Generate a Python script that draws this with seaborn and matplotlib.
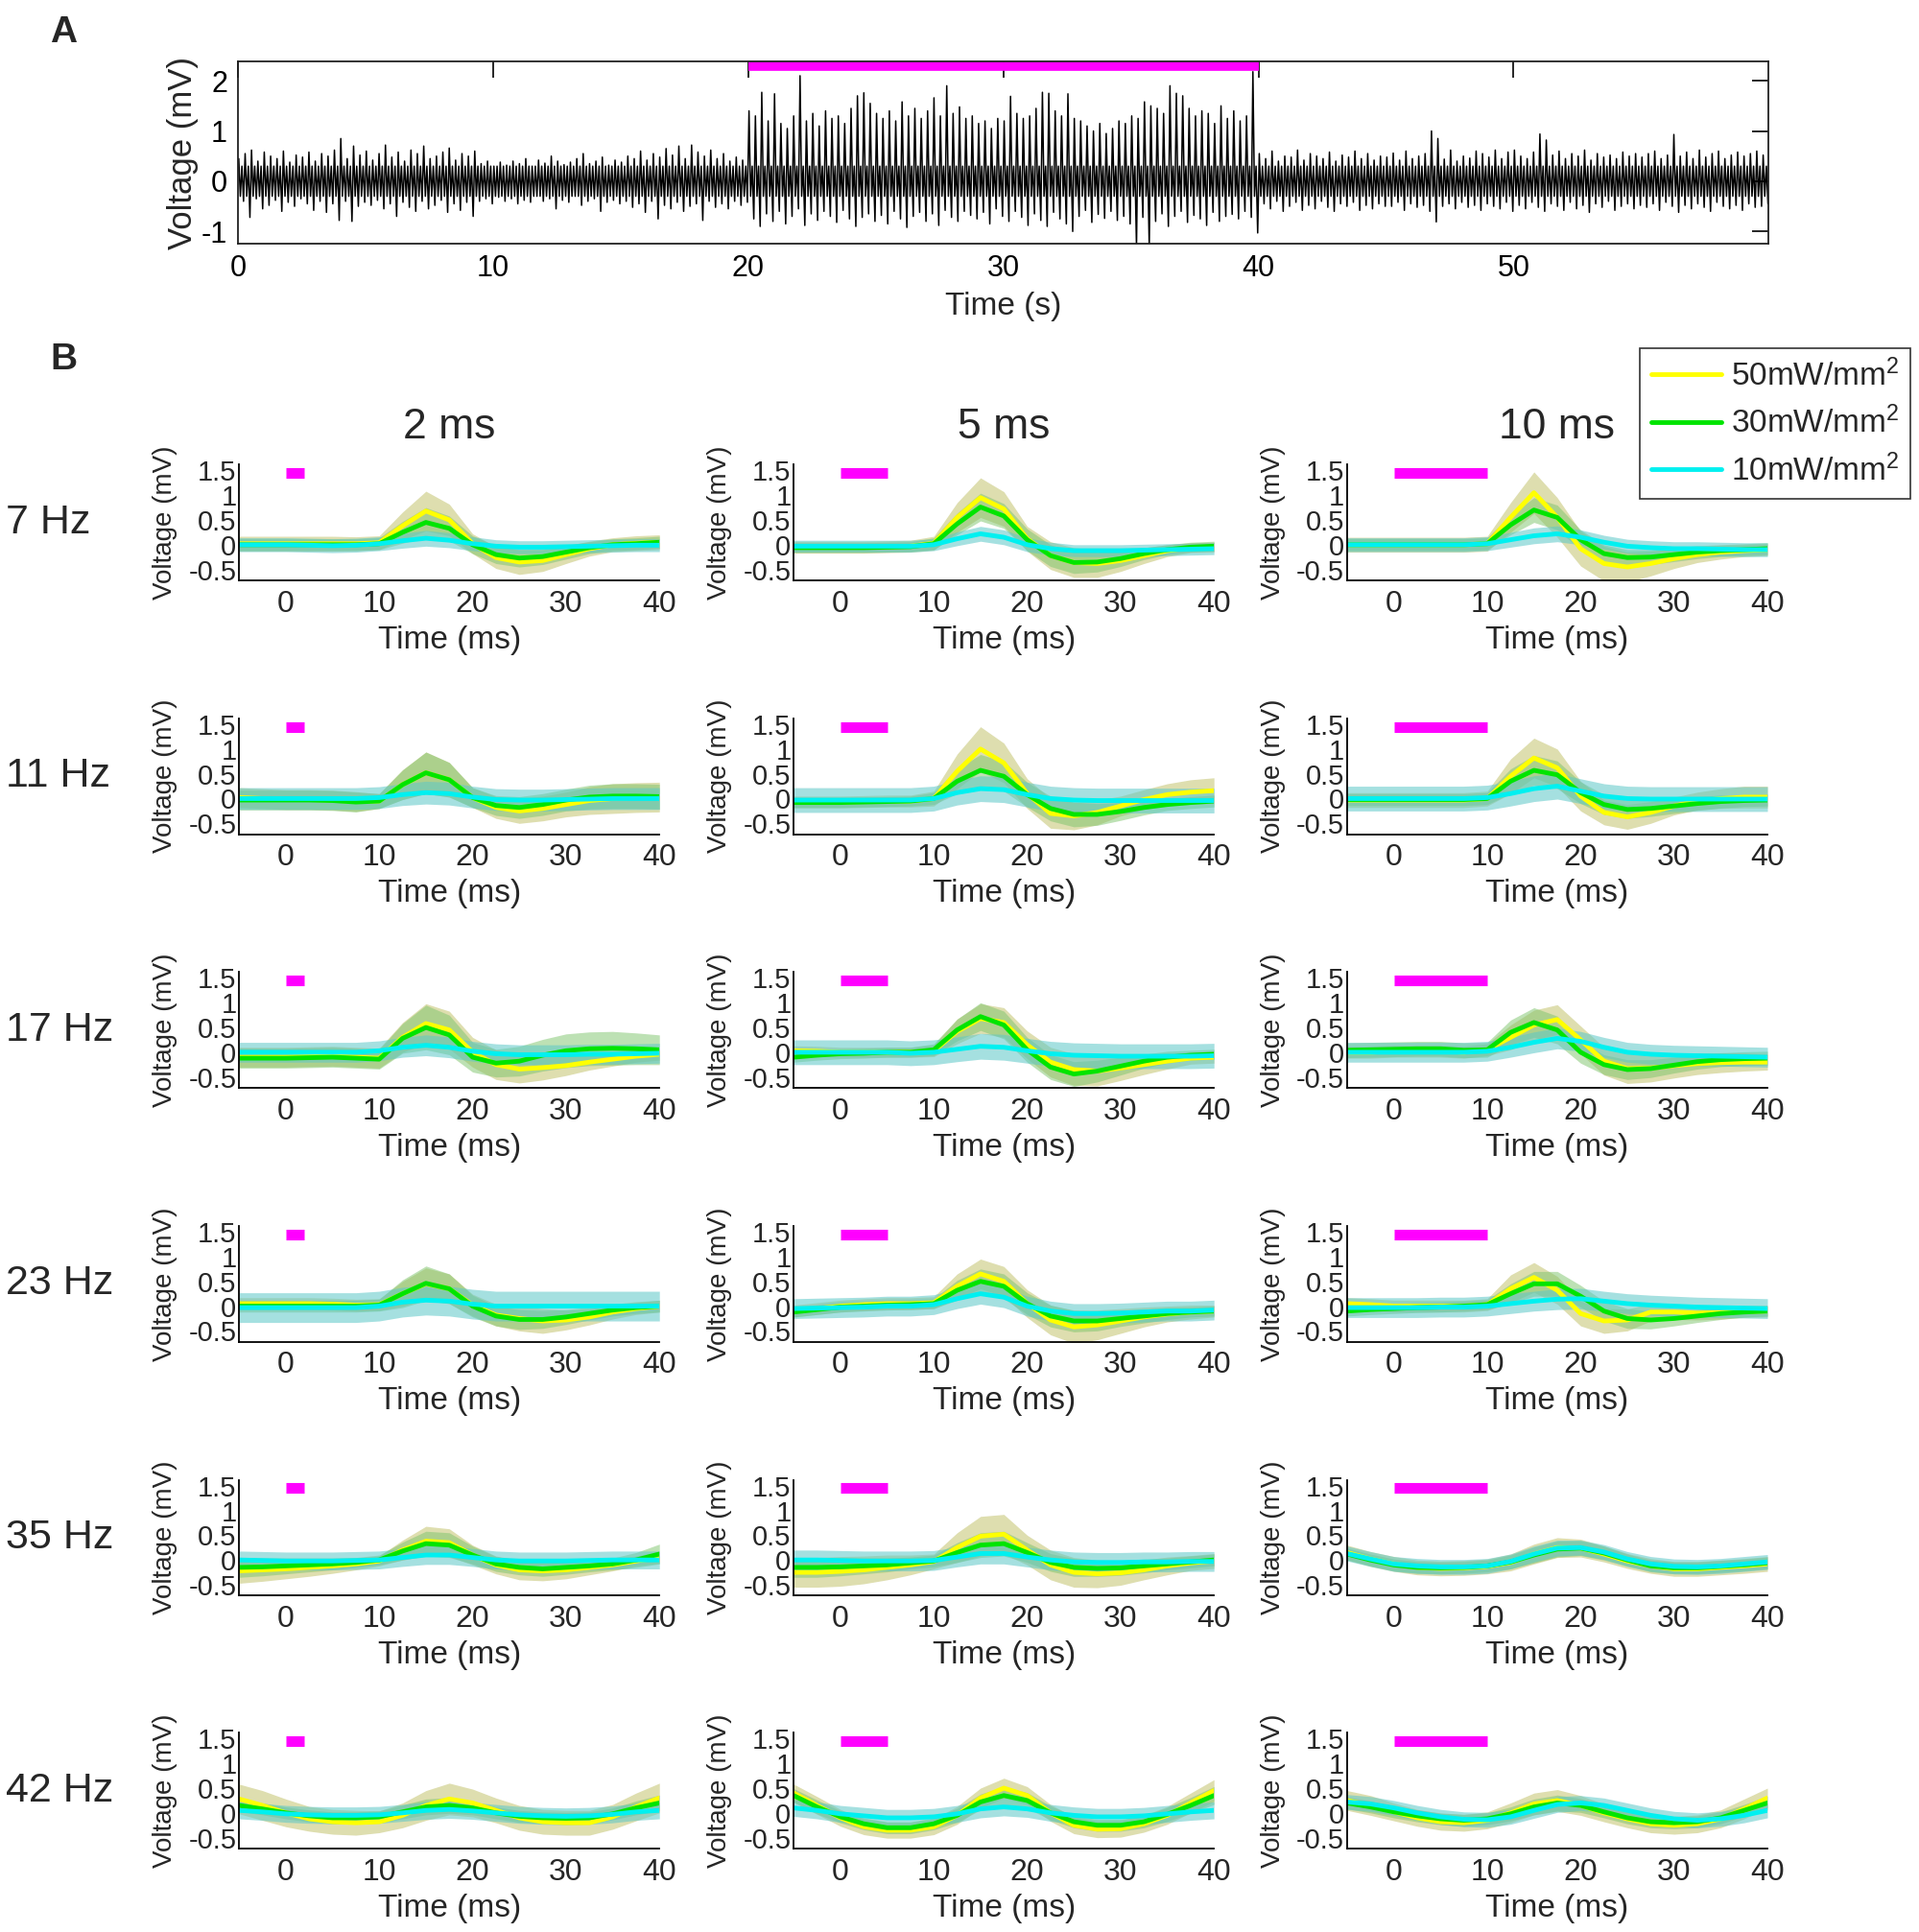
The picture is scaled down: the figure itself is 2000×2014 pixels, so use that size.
import numpy as np
import matplotlib
matplotlib.use("Agg")
import matplotlib.pyplot as plt
from matplotlib.lines import Line2D
import seaborn as sns

# ---------------- Panel A: extracellular trace, extremes per 0.25 s window (mV)
trace_top = [
    0.45, 0.55, 0.62, 0.40, 0.58, 0.50, 0.45, 0.60, 0.38, 0.52, 0.48, 0.58, 0.40, 0.55, 0.50, 0.62, 0.85, 0.45, 0.70, 0.52,
    0.60, 0.42, 0.55, 0.72, 0.48, 0.58, 0.40, 0.62, 0.55, 0.70, 0.45, 0.50, 0.58, 0.66, 0.42, 0.55, 0.50, 0.60, 0.35, 0.40,
    0.30, 0.38, 0.32, 0.40, 0.35, 0.45, 0.30, 0.42, 0.36, 0.50, 0.40, 0.33, 0.38, 0.45, 0.55, 0.35, 0.40, 0.48, 0.32, 0.42,
    0.38, 0.50, 0.45, 0.60, 0.42, 0.55, 0.48, 0.65, 0.52, 0.70, 0.45, 0.72, 0.58, 0.50, 0.62, 0.45, 0.55, 0.40, 0.48, 0.42,
    1.40, 1.30, 1.77, 1.20, 1.74, 1.15, 1.05, 1.30, 2.10, 1.20, 1.35, 1.10, 1.40, 1.25, 1.30, 1.15, 1.45, 1.70, 1.76, 1.55,
    1.35, 1.25, 1.40, 1.20, 1.58, 1.30, 1.45, 1.25, 1.40, 1.66, 1.30, 1.90, 1.35, 1.48, 1.25, 1.30, 1.15, 1.20, 1.05, 1.25,
    1.20, 1.69, 1.35, 1.25, 1.30, 1.45, 1.77, 1.75, 1.40, 1.30, 1.74, 1.25, 1.20, 1.10, 1.00, 1.15, 0.95, 1.05, 1.20, 1.15,
    1.30, 1.25, 1.58, 1.50, 1.45, 1.35, 1.90, 1.75, 1.70, 1.45, 1.30, 1.40, 1.35, 1.15, 1.50, 1.25, 1.40, 1.20, 1.30, 2.18,
    0.55, 0.45, 0.60, 0.40, 0.50, 0.48, 0.62, 0.42, 0.55, 0.50, 0.45, 0.58, 0.40, 0.52, 0.48, 0.60, 0.45, 0.55, 0.42, 0.50,
    0.48, 0.56, 0.42, 0.60, 0.45, 0.50, 0.55, 1.00, 0.85, 0.44, 0.62, 0.40, 0.50, 0.46, 0.60, 0.55, 0.48, 0.62, 0.45, 0.58,
    0.62, 0.50, 0.45, 0.58, 0.94, 0.82, 0.52, 0.60, 0.45, 0.55, 0.50, 0.62, 0.42, 0.55, 0.48, 0.52, 0.45, 0.58, 0.50, 0.55,
    0.48, 0.55, 0.60, 0.45, 0.52, 0.93, 0.50, 0.58, 0.45, 0.62, 0.48, 0.55, 0.60, 0.45, 0.52, 0.58, 0.50, 0.55, 0.60, 0.52,
]
trace_bot = [
    -0.40, -0.72, -0.35, -0.55, -0.48, -0.38, -0.60, -0.42, -0.50, -0.35, -0.45, -0.58, -0.40, -0.62, -0.45, -0.78, -0.40, -0.80, -0.50, -0.42,
    -0.48, -0.38, -0.55, -0.45, -0.70, -0.42, -0.52, -0.60, -0.40, -0.55, -0.48, -0.38, -0.62, -0.45, -0.58, -0.42, -0.70, -0.40, -0.35, -0.45,
    -0.32, -0.40, -0.35, -0.45, -0.38, -0.42, -0.30, -0.40, -0.35, -0.55, -0.38, -0.42, -0.30, -0.48, -0.40, -0.35, -0.60, -0.42, -0.38, -0.45,
    -0.40, -0.52, -0.45, -0.62, -0.40, -0.75, -0.48, -0.55, -0.42, -0.60, -0.50, -0.45, -0.78, -0.40, -0.52, -0.45, -0.55, -0.40, -0.48, -0.42,
    -0.75, -0.90, -0.65, -0.80, -0.60, -0.85, -0.70, -0.55, -0.88, -0.65, -0.78, -0.60, -0.70, -0.82, -0.58, -0.75, -0.90, -0.72, -0.65, -0.80,
    -0.68, -0.85, -0.60, -0.75, -0.92, -0.70, -0.62, -0.80, -0.65, -0.88, -0.58, -0.72, -0.80, -0.60, -0.68, -0.75, -0.62, -0.85, -0.55, -0.70,
    -0.80, -0.60, -0.72, -0.88, -0.65, -0.78, -0.90, -0.62, -0.75, -0.85, -1.00, -0.70, -0.58, -0.82, -0.66, -0.74, -0.60, -0.78, -0.70, -0.85,
    -1.30, -0.72, -1.30, -0.80, -0.65, -0.90, -0.70, -0.60, -0.82, -0.68, -0.75, -0.88, -0.62, -0.80, -0.70, -0.66, -0.75, -0.60, -0.72, -1.03,
    -0.45, -0.55, -0.40, -0.60, -0.50, -0.42, -0.58, -0.48, -0.55, -0.40, -0.52, -0.60, -0.45, -0.50, -0.42, -0.58, -0.48, -0.55, -0.45, -0.50,
    -0.50, -0.42, -0.58, -0.45, -0.52, -0.48, -0.60, -0.81, -0.50, -0.45, -0.55, -0.42, -0.52, -0.48, -0.58, -0.45, -0.50, -0.55, -0.42, -0.60,
    -0.48, -0.55, -0.42, -0.52, -0.60, -0.45, -0.50, -0.58, -0.42, -0.55, -0.48, -0.62, -0.45, -0.52, -0.40, -0.58, -0.50, -0.45, -0.55, -0.48,
    -0.52, -0.45, -0.58, -0.42, -0.50, -0.62, -0.48, -0.55, -0.45, -0.52, -0.60, -0.42, -0.50, -0.55, -0.48, -0.58, -0.45, -0.52, -0.50, -0.45,
]
noise_core_mv = 0.3      # width of the dense background noise band
window_s = 0.25
stim_on_s = [20, 40]
stim_level_a = 2.28

# ---------------- Panel B: mean +/- sd of evoked field potentials (mV)
t_ms = [-5, -2.5, 0, 2.5, 5, 7.5, 10, 12.5, 15, 17.5, 20, 22.5, 25, 27.5, 30, 32.5, 35, 37.5, 40]
freq_labels = ["7 Hz", "11 Hz", "17 Hz", "23 Hz", "35 Hz", "42 Hz"]
pulse_ms = [2, 5, 10]
pulse_titles = ["2 ms", "5 ms", "10 ms"]
power_labels = ["50mW/mm$^2$", "30mW/mm$^2$", "10mW/mm$^2$"]
stim_level_b = 1.45

# each block: [2 ms, 5 ms, 10 ms]
m07_50 = [
    [0.02, 0.02, 0.02, 0.02, 0.02, 0.02, 0.04, 0.38, 0.68, 0.50, 0.02, -0.26, -0.35, -0.32, -0.20, -0.08, 0.00, 0.03, 0.05],
    [-0.05, -0.05, -0.05, -0.05, -0.04, -0.03, 0.03, 0.55, 0.95, 0.72, 0.12, -0.22, -0.36, -0.38, -0.32, -0.22, -0.12, -0.06, -0.05],
    [0.00, 0.00, 0.00, 0.00, 0.00, 0.00, 0.02, 0.55, 1.05, 0.55, -0.08, -0.38, -0.45, -0.38, -0.28, -0.20, -0.15, -0.12, -0.10],
]
m07_30 = [
    [0.00, 0.00, 0.00, 0.00, 0.00, 0.00, 0.02, 0.25, 0.45, 0.33, 0.00, -0.20, -0.27, -0.24, -0.15, -0.06, 0.00, 0.02, 0.05],
    [-0.06, -0.06, -0.06, -0.06, -0.05, -0.04, 0.02, 0.42, 0.76, 0.58, 0.10, -0.22, -0.36, -0.35, -0.28, -0.18, -0.10, -0.05, -0.03],
    [0.00, 0.00, 0.00, 0.00, 0.00, 0.00, 0.02, 0.40, 0.70, 0.55, 0.10, -0.18, -0.26, -0.25, -0.20, -0.15, -0.12, -0.10, -0.08],
]
m07_10 = [
    [0.00, 0.00, 0.00, -0.01, -0.02, -0.01, 0.02, 0.08, 0.13, 0.09, 0.02, -0.03, -0.05, -0.05, -0.04, -0.03, -0.02, -0.01, -0.01],
    [-0.03, -0.03, -0.03, -0.03, -0.03, -0.03, 0.00, 0.12, 0.22, 0.15, 0.00, -0.08, -0.12, -0.12, -0.12, -0.11, -0.10, -0.09, -0.08],
    [0.00, 0.00, 0.00, 0.00, 0.00, 0.00, 0.02, 0.10, 0.18, 0.22, 0.15, 0.05, -0.03, -0.06, -0.08, -0.08, -0.09, -0.10, -0.10],
]
s07_50 = [
    [0.15, 0.15, 0.15, 0.15, 0.15, 0.14, 0.14, 0.28, 0.40, 0.32, 0.20, 0.22, 0.25, 0.22, 0.18, 0.15, 0.14, 0.15, 0.15],
    [0.12, 0.12, 0.12, 0.12, 0.12, 0.12, 0.14, 0.30, 0.40, 0.35, 0.25, 0.28, 0.30, 0.28, 0.22, 0.16, 0.12, 0.10, 0.10],
    [0.15, 0.15, 0.15, 0.15, 0.15, 0.15, 0.15, 0.30, 0.42, 0.40, 0.35, 0.35, 0.30, 0.25, 0.20, 0.16, 0.14, 0.12, 0.12],
]
s07_30 = [
    [0.12, 0.12, 0.12, 0.12, 0.12, 0.12, 0.12, 0.22, 0.30, 0.25, 0.18, 0.18, 0.18, 0.16, 0.14, 0.12, 0.12, 0.12, 0.12],
    [0.10, 0.10, 0.10, 0.10, 0.10, 0.10, 0.12, 0.22, 0.28, 0.25, 0.22, 0.22, 0.22, 0.20, 0.16, 0.12, 0.10, 0.10, 0.10],
    [0.12, 0.12, 0.12, 0.12, 0.12, 0.12, 0.12, 0.20, 0.25, 0.25, 0.20, 0.18, 0.16, 0.15, 0.14, 0.13, 0.12, 0.12, 0.12],
]
s07_10 = [
    [0.14, 0.14, 0.14, 0.14, 0.14, 0.14, 0.14, 0.15, 0.16, 0.15, 0.14, 0.13, 0.13, 0.13, 0.13, 0.13, 0.13, 0.13, 0.13],
    [0.12, 0.12, 0.12, 0.12, 0.12, 0.12, 0.12, 0.14, 0.15, 0.15, 0.14, 0.13, 0.12, 0.12, 0.12, 0.12, 0.12, 0.12, 0.12],
    [0.14, 0.14, 0.14, 0.14, 0.14, 0.14, 0.14, 0.15, 0.16, 0.16, 0.15, 0.14, 0.14, 0.14, 0.14, 0.14, 0.14, 0.14, 0.14],
]

m11_50 = [
    [0.02, 0.00, -0.02, -0.02, -0.03, -0.06, -0.05, 0.28, 0.52, 0.38, 0.02, -0.18, -0.25, -0.20, -0.12, -0.04, 0.00, 0.02, 0.03],
    [-0.07, -0.07, -0.07, -0.06, -0.05, -0.05, 0.00, 0.55, 1.00, 0.72, 0.10, -0.30, -0.35, -0.28, -0.15, -0.02, 0.08, 0.13, 0.16],
    [-0.03, -0.03, -0.03, -0.03, -0.03, -0.03, 0.00, 0.45, 0.82, 0.62, 0.05, -0.28, -0.37, -0.28, -0.15, -0.05, 0.00, 0.03, 0.03],
]
m11_30 = [
    [-0.03, -0.03, -0.03, -0.03, -0.04, -0.07, -0.05, 0.28, 0.52, 0.38, 0.02, -0.14, -0.18, -0.12, -0.03, 0.03, 0.05, 0.05, 0.04],
    [-0.08, -0.08, -0.08, -0.07, -0.06, -0.05, 0.00, 0.35, 0.57, 0.45, 0.08, -0.20, -0.32, -0.32, -0.26, -0.18, -0.12, -0.08, -0.05],
    [-0.02, -0.02, -0.02, -0.02, -0.02, -0.02, 0.00, 0.35, 0.57, 0.48, 0.12, -0.12, -0.22, -0.20, -0.15, -0.10, -0.06, -0.04, -0.03],
]
m11_10 = [
    [0.00, 0.00, 0.00, 0.00, 0.00, 0.00, 0.02, 0.08, 0.12, 0.10, 0.03, -0.02, -0.03, -0.03, -0.02, -0.01, 0.00, 0.00, 0.00],
    [-0.03, -0.03, -0.03, -0.03, -0.03, -0.03, 0.00, 0.12, 0.20, 0.18, 0.08, 0.00, -0.03, -0.04, -0.04, -0.04, -0.04, -0.04, -0.04],
    [0.00, 0.00, 0.00, 0.00, 0.00, 0.00, 0.02, 0.10, 0.20, 0.25, 0.15, 0.05, 0.00, -0.01, -0.01, -0.01, -0.01, -0.01, -0.01],
]
s11_50 = [
    [0.20, 0.20, 0.20, 0.20, 0.20, 0.20, 0.15, 0.30, 0.42, 0.35, 0.20, 0.22, 0.25, 0.25, 0.25, 0.28, 0.30, 0.30, 0.30],
    [0.12, 0.12, 0.12, 0.12, 0.12, 0.12, 0.15, 0.35, 0.45, 0.40, 0.30, 0.30, 0.28, 0.25, 0.20, 0.20, 0.22, 0.25, 0.26],
    [0.15, 0.15, 0.15, 0.15, 0.15, 0.15, 0.15, 0.35, 0.40, 0.38, 0.30, 0.25, 0.25, 0.22, 0.18, 0.18, 0.20, 0.22, 0.22],
]
s11_30 = [
    [0.20, 0.20, 0.20, 0.20, 0.20, 0.20, 0.15, 0.30, 0.42, 0.35, 0.20, 0.20, 0.22, 0.22, 0.22, 0.24, 0.25, 0.25, 0.25],
    [0.10, 0.10, 0.10, 0.10, 0.10, 0.10, 0.12, 0.25, 0.32, 0.30, 0.25, 0.25, 0.25, 0.22, 0.18, 0.15, 0.12, 0.12, 0.12],
    [0.12, 0.12, 0.12, 0.12, 0.12, 0.12, 0.12, 0.25, 0.30, 0.28, 0.22, 0.20, 0.18, 0.16, 0.15, 0.14, 0.13, 0.12, 0.12],
]
s11_10 = [
    [0.22, 0.22, 0.22, 0.22, 0.22, 0.22, 0.22, 0.22, 0.23, 0.23, 0.22, 0.22, 0.22, 0.22, 0.22, 0.22, 0.22, 0.22, 0.22],
    [0.25, 0.25, 0.25, 0.25, 0.25, 0.25, 0.25, 0.25, 0.26, 0.26, 0.25, 0.25, 0.25, 0.25, 0.25, 0.25, 0.25, 0.25, 0.25],
    [0.25, 0.25, 0.25, 0.25, 0.25, 0.25, 0.25, 0.25, 0.26, 0.26, 0.25, 0.25, 0.25, 0.25, 0.25, 0.25, 0.25, 0.25, 0.25],
]

m17_50 = [
    [-0.10, -0.10, -0.10, -0.09, -0.08, -0.10, -0.12, 0.30, 0.58, 0.45, 0.00, -0.25, -0.34, -0.31, -0.27, -0.20, -0.14, -0.08, -0.04],
    [0.03, 0.02, 0.00, 0.00, 0.00, 0.00, 0.03, 0.42, 0.68, 0.60, 0.15, -0.20, -0.35, -0.38, -0.32, -0.25, -0.18, -0.12, -0.10],
    [0.00, 0.00, 0.02, 0.02, 0.02, 0.00, 0.05, 0.30, 0.55, 0.66, 0.25, -0.18, -0.33, -0.32, -0.27, -0.23, -0.21, -0.20, -0.20],
]
m17_30 = [
    [-0.12, -0.12, -0.12, -0.11, -0.10, -0.12, -0.14, 0.28, 0.50, 0.35, -0.10, -0.22, -0.18, -0.06, 0.03, 0.07, 0.08, 0.07, 0.05],
    [-0.10, -0.06, -0.03, -0.02, 0.00, 0.00, 0.05, 0.45, 0.72, 0.55, 0.05, -0.30, -0.44, -0.38, -0.28, -0.18, -0.10, -0.06, -0.04],
    [0.04, 0.05, 0.06, 0.07, 0.07, 0.04, 0.05, 0.40, 0.60, 0.45, 0.00, -0.25, -0.35, -0.33, -0.26, -0.19, -0.15, -0.13, -0.12],
]
m17_10 = [
    [0.00, 0.00, 0.00, 0.00, 0.00, 0.00, 0.03, 0.10, 0.14, 0.10, 0.02, -0.03, -0.05, -0.05, -0.05, -0.04, -0.04, -0.03, -0.02],
    [0.00, 0.00, 0.00, 0.00, 0.00, -0.02, 0.00, 0.06, 0.12, 0.10, 0.03, -0.03, -0.06, -0.07, -0.08, -0.08, -0.08, -0.08, -0.07],
    [0.00, 0.00, 0.00, 0.00, 0.00, 0.00, 0.02, 0.10, 0.20, 0.28, 0.22, 0.10, 0.00, -0.04, -0.06, -0.07, -0.08, -0.09, -0.10],
]
s17_50 = [
    [0.20, 0.20, 0.20, 0.20, 0.20, 0.20, 0.20, 0.30, 0.40, 0.38, 0.30, 0.30, 0.28, 0.25, 0.20, 0.16, 0.14, 0.12, 0.12],
    [0.10, 0.10, 0.10, 0.10, 0.10, 0.10, 0.12, 0.25, 0.30, 0.30, 0.28, 0.30, 0.32, 0.30, 0.25, 0.20, 0.16, 0.12, 0.12],
    [0.12, 0.12, 0.12, 0.12, 0.12, 0.12, 0.12, 0.25, 0.30, 0.30, 0.28, 0.28, 0.30, 0.28, 0.25, 0.22, 0.20, 0.18, 0.16],
]
s17_30 = [
    [0.20, 0.20, 0.20, 0.20, 0.20, 0.20, 0.20, 0.30, 0.45, 0.40, 0.30, 0.28, 0.30, 0.32, 0.34, 0.34, 0.34, 0.32, 0.30],
    [0.10, 0.10, 0.10, 0.10, 0.10, 0.10, 0.12, 0.22, 0.28, 0.28, 0.25, 0.25, 0.25, 0.22, 0.18, 0.14, 0.12, 0.10, 0.10],
    [0.15, 0.15, 0.15, 0.15, 0.15, 0.15, 0.15, 0.25, 0.30, 0.28, 0.22, 0.20, 0.20, 0.18, 0.16, 0.15, 0.14, 0.14, 0.14],
]
s17_10 = [
    [0.20, 0.20, 0.20, 0.20, 0.20, 0.20, 0.20, 0.20, 0.21, 0.21, 0.20, 0.20, 0.20, 0.20, 0.20, 0.20, 0.20, 0.20, 0.20],
    [0.25, 0.25, 0.25, 0.25, 0.25, 0.25, 0.25, 0.25, 0.26, 0.26, 0.25, 0.25, 0.25, 0.25, 0.25, 0.25, 0.25, 0.25, 0.25],
    [0.20, 0.20, 0.20, 0.20, 0.20, 0.20, 0.20, 0.20, 0.21, 0.21, 0.20, 0.20, 0.20, 0.20, 0.20, 0.20, 0.20, 0.20, 0.20],
]

m23_50 = [
    [0.05, 0.05, 0.05, 0.05, 0.04, 0.02, 0.03, 0.25, 0.45, 0.35, 0.02, -0.18, -0.25, -0.30, -0.28, -0.22, -0.12, -0.05, 0.00],
    [-0.10, -0.05, 0.00, 0.03, 0.05, 0.05, 0.07, 0.40, 0.65, 0.50, 0.05, -0.28, -0.42, -0.38, -0.30, -0.22, -0.16, -0.12, -0.10],
    [0.05, 0.03, 0.00, 0.00, 0.00, 0.00, 0.03, 0.35, 0.58, 0.32, -0.15, -0.30, -0.28, -0.12, -0.12, -0.14, -0.13, -0.11, -0.10],
]
m23_30 = [
    [0.00, 0.00, 0.00, 0.00, 0.00, 0.00, 0.02, 0.25, 0.46, 0.35, 0.00, -0.20, -0.27, -0.27, -0.22, -0.15, -0.08, -0.03, 0.00],
    [-0.12, -0.07, -0.02, 0.00, 0.02, 0.03, 0.05, 0.32, 0.50, 0.40, 0.05, -0.20, -0.30, -0.30, -0.25, -0.20, -0.15, -0.12, -0.10],
    [-0.10, -0.07, -0.05, -0.03, -0.02, 0.00, 0.03, 0.25, 0.45, 0.45, 0.20, -0.10, -0.25, -0.28, -0.25, -0.20, -0.15, -0.12, -0.10],
]
m23_10 = [
    [-0.03, -0.03, -0.03, -0.03, -0.03, -0.03, 0.00, 0.08, 0.12, 0.10, 0.04, 0.00, 0.00, 0.00, 0.00, 0.00, 0.00, 0.00, 0.00],
    [-0.05, -0.04, -0.03, -0.02, 0.00, 0.00, 0.03, 0.15, 0.25, 0.18, 0.00, -0.10, -0.15, -0.15, -0.14, -0.12, -0.10, -0.10, -0.08],
    [-0.03, -0.03, -0.03, -0.03, -0.02, -0.02, 0.00, 0.05, 0.10, 0.14, 0.15, 0.10, 0.05, 0.02, 0.00, -0.02, -0.03, -0.04, -0.05],
]
s23_50 = [
    [0.12, 0.12, 0.12, 0.12, 0.12, 0.12, 0.12, 0.25, 0.32, 0.30, 0.22, 0.22, 0.25, 0.25, 0.20, 0.16, 0.14, 0.12, 0.12],
    [0.12, 0.12, 0.12, 0.12, 0.12, 0.12, 0.12, 0.25, 0.30, 0.30, 0.28, 0.30, 0.33, 0.30, 0.25, 0.20, 0.16, 0.14, 0.12],
    [0.12, 0.12, 0.12, 0.12, 0.12, 0.12, 0.12, 0.28, 0.30, 0.28, 0.25, 0.25, 0.22, 0.18, 0.15, 0.14, 0.13, 0.12, 0.12],
]
s23_30 = [
    [0.12, 0.12, 0.12, 0.12, 0.12, 0.12, 0.12, 0.28, 0.35, 0.30, 0.22, 0.20, 0.20, 0.18, 0.15, 0.13, 0.12, 0.12, 0.12],
    [0.10, 0.10, 0.10, 0.10, 0.10, 0.10, 0.10, 0.20, 0.25, 0.25, 0.22, 0.22, 0.22, 0.20, 0.16, 0.14, 0.12, 0.10, 0.10],
    [0.10, 0.10, 0.10, 0.10, 0.10, 0.10, 0.10, 0.20, 0.25, 0.25, 0.22, 0.20, 0.20, 0.18, 0.15, 0.13, 0.12, 0.10, 0.10],
]
s23_10 = [
    [0.30, 0.30, 0.30, 0.30, 0.30, 0.30, 0.30, 0.30, 0.30, 0.30, 0.30, 0.30, 0.30, 0.30, 0.30, 0.30, 0.30, 0.30, 0.30],
    [0.20, 0.20, 0.20, 0.20, 0.20, 0.20, 0.20, 0.20, 0.21, 0.21, 0.20, 0.20, 0.20, 0.20, 0.20, 0.20, 0.20, 0.20, 0.20],
    [0.20, 0.20, 0.20, 0.20, 0.20, 0.20, 0.20, 0.20, 0.20, 0.21, 0.21, 0.20, 0.20, 0.20, 0.20, 0.20, 0.20, 0.20, 0.20],
]

m35_50 = [
    [-0.22, -0.20, -0.18, -0.15, -0.12, -0.08, -0.02, 0.20, 0.38, 0.35, 0.10, -0.10, -0.20, -0.22, -0.20, -0.15, -0.10, -0.02, 0.05],
    [-0.25, -0.25, -0.23, -0.20, -0.15, -0.10, -0.03, 0.25, 0.48, 0.52, 0.20, -0.10, -0.25, -0.28, -0.26, -0.20, -0.12, -0.06, -0.02],
    [0.15, 0.02, -0.08, -0.15, -0.17, -0.16, -0.13, -0.05, 0.12, 0.25, 0.24, 0.12, -0.02, -0.12, -0.18, -0.18, -0.15, -0.12, -0.08],
]
m35_30 = [
    [-0.15, -0.14, -0.12, -0.10, -0.08, -0.05, 0.00, 0.18, 0.33, 0.30, 0.10, -0.08, -0.15, -0.18, -0.15, -0.12, -0.08, 0.00, 0.12],
    [-0.15, -0.15, -0.14, -0.12, -0.10, -0.06, -0.02, 0.15, 0.30, 0.33, 0.15, -0.05, -0.15, -0.17, -0.16, -0.12, -0.08, -0.04, 0.00],
    [0.12, 0.00, -0.10, -0.15, -0.16, -0.15, -0.12, -0.04, 0.10, 0.22, 0.24, 0.14, 0.00, -0.12, -0.16, -0.16, -0.13, -0.10, -0.06],
]
m35_10 = [
    [0.00, -0.01, -0.02, -0.02, -0.02, -0.01, 0.00, 0.05, 0.10, 0.10, 0.05, 0.00, -0.02, -0.02, -0.02, -0.01, 0.00, 0.00, 0.00],
    [0.00, 0.00, -0.01, -0.02, -0.02, -0.02, -0.01, 0.06, 0.13, 0.13, 0.06, 0.00, -0.04, -0.05, -0.05, -0.04, -0.04, -0.03, -0.03],
    [0.13, 0.02, -0.08, -0.12, -0.14, -0.14, -0.12, -0.03, 0.12, 0.24, 0.25, 0.16, 0.02, -0.08, -0.13, -0.14, -0.12, -0.08, -0.04],
]
s35_50 = [
    [0.25, 0.23, 0.20, 0.18, 0.15, 0.12, 0.10, 0.20, 0.30, 0.28, 0.20, 0.18, 0.20, 0.20, 0.18, 0.15, 0.12, 0.10, 0.12],
    [0.30, 0.30, 0.30, 0.28, 0.25, 0.20, 0.15, 0.30, 0.40, 0.40, 0.30, 0.30, 0.30, 0.28, 0.25, 0.20, 0.18, 0.15, 0.15],
    [0.15, 0.15, 0.15, 0.15, 0.15, 0.15, 0.15, 0.17, 0.20, 0.20, 0.18, 0.16, 0.15, 0.15, 0.15, 0.15, 0.15, 0.15, 0.15],
]
s35_30 = [
    [0.20, 0.18, 0.16, 0.14, 0.12, 0.10, 0.10, 0.18, 0.25, 0.25, 0.18, 0.15, 0.15, 0.15, 0.14, 0.12, 0.12, 0.15, 0.20],
    [0.20, 0.20, 0.18, 0.16, 0.14, 0.12, 0.12, 0.20, 0.25, 0.25, 0.20, 0.18, 0.18, 0.16, 0.15, 0.14, 0.12, 0.12, 0.12],
    [0.12, 0.12, 0.12, 0.12, 0.12, 0.12, 0.12, 0.14, 0.16, 0.16, 0.15, 0.14, 0.12, 0.12, 0.12, 0.12, 0.12, 0.12, 0.12],
]
s35_10 = [
    [0.18, 0.18, 0.18, 0.18, 0.18, 0.18, 0.18, 0.18, 0.19, 0.19, 0.18, 0.18, 0.18, 0.18, 0.18, 0.18, 0.18, 0.18, 0.18],
    [0.20, 0.20, 0.20, 0.20, 0.20, 0.20, 0.20, 0.20, 0.21, 0.21, 0.20, 0.20, 0.20, 0.20, 0.20, 0.20, 0.20, 0.20, 0.20],
    [0.15, 0.15, 0.15, 0.15, 0.15, 0.15, 0.15, 0.15, 0.16, 0.16, 0.15, 0.15, 0.15, 0.15, 0.15, 0.15, 0.15, 0.15, 0.15],
]

m42_50 = [
    [0.28, 0.15, 0.00, -0.12, -0.18, -0.20, -0.18, -0.05, 0.15, 0.28, 0.20, 0.05, -0.10, -0.18, -0.20, -0.20, -0.08, 0.12, 0.30],
    [0.40, 0.15, -0.10, -0.28, -0.35, -0.35, -0.28, -0.05, 0.30, 0.50, 0.35, 0.00, -0.25, -0.33, -0.32, -0.22, -0.05, 0.20, 0.45],
    [0.25, 0.15, 0.02, -0.10, -0.18, -0.20, -0.15, 0.00, 0.18, 0.25, 0.15, 0.00, -0.12, -0.22, -0.25, -0.22, -0.12, 0.08, 0.30],
]
m42_30 = [
    [0.15, 0.08, 0.00, -0.06, -0.10, -0.10, -0.08, 0.02, 0.12, 0.15, 0.10, 0.00, -0.07, -0.10, -0.11, -0.10, -0.02, 0.10, 0.20],
    [0.35, 0.12, -0.08, -0.22, -0.30, -0.30, -0.22, -0.05, 0.22, 0.35, 0.25, 0.00, -0.18, -0.25, -0.25, -0.18, -0.03, 0.15, 0.35],
    [0.20, 0.12, 0.02, -0.06, -0.12, -0.15, -0.12, -0.02, 0.12, 0.20, 0.15, 0.02, -0.10, -0.18, -0.20, -0.18, -0.10, 0.05, 0.20],
]
m42_10 = [
    [0.05, 0.02, -0.02, -0.04, -0.05, -0.05, -0.04, 0.00, 0.05, 0.07, 0.04, 0.00, -0.04, -0.06, -0.07, -0.06, -0.03, 0.02, 0.05],
    [0.10, 0.05, -0.02, -0.06, -0.10, -0.10, -0.08, -0.02, 0.08, 0.12, 0.08, 0.00, -0.05, -0.08, -0.08, -0.06, -0.02, 0.02, 0.05],
    [0.22, 0.18, 0.10, 0.00, -0.08, -0.13, -0.14, -0.08, 0.05, 0.17, 0.20, 0.15, 0.05, -0.05, -0.12, -0.15, -0.12, -0.05, 0.05],
]
s42_50 = [
    [0.30, 0.30, 0.28, 0.25, 0.25, 0.25, 0.22, 0.25, 0.30, 0.32, 0.28, 0.25, 0.25, 0.25, 0.25, 0.25, 0.25, 0.28, 0.30],
    [0.18, 0.18, 0.17, 0.16, 0.16, 0.16, 0.16, 0.18, 0.20, 0.20, 0.18, 0.17, 0.17, 0.17, 0.17, 0.17, 0.18, 0.20, 0.22],
    [0.20, 0.20, 0.18, 0.17, 0.17, 0.17, 0.17, 0.20, 0.22, 0.22, 0.20, 0.18, 0.18, 0.18, 0.18, 0.18, 0.18, 0.20, 0.20],
]
s42_30 = [
    [0.12, 0.12, 0.12, 0.12, 0.12, 0.12, 0.12, 0.14, 0.16, 0.16, 0.14, 0.12, 0.12, 0.12, 0.12, 0.12, 0.12, 0.14, 0.16],
    [0.14, 0.14, 0.12, 0.12, 0.12, 0.12, 0.12, 0.14, 0.16, 0.18, 0.16, 0.14, 0.12, 0.12, 0.12, 0.12, 0.14, 0.16, 0.18],
    [0.12, 0.12, 0.12, 0.12, 0.12, 0.12, 0.12, 0.14, 0.16, 0.16, 0.14, 0.12, 0.12, 0.12, 0.12, 0.12, 0.12, 0.12, 0.14],
]
s42_10 = [
    [0.17, 0.17, 0.17, 0.17, 0.17, 0.17, 0.17, 0.17, 0.18, 0.18, 0.17, 0.17, 0.17, 0.17, 0.17, 0.17, 0.17, 0.17, 0.17],
    [0.17, 0.17, 0.17, 0.17, 0.17, 0.17, 0.17, 0.17, 0.18, 0.18, 0.17, 0.17, 0.17, 0.17, 0.17, 0.17, 0.17, 0.17, 0.17],
    [0.15, 0.15, 0.15, 0.15, 0.15, 0.15, 0.15, 0.15, 0.16, 0.16, 0.15, 0.15, 0.15, 0.15, 0.15, 0.15, 0.15, 0.15, 0.15],
]

means = [
    [m07_50, m07_30, m07_10],
    [m11_50, m11_30, m11_10],
    [m17_50, m17_30, m17_10],
    [m23_50, m23_30, m23_10],
    [m35_50, m35_30, m35_10],
    [m42_50, m42_30, m42_10],
]
sds = [
    [s07_50, s07_30, s07_10],
    [s11_50, s11_30, s11_10],
    [s17_50, s17_30, s17_10],
    [s23_50, s23_30, s23_10],
    [s35_50, s35_30, s35_10],
    [s42_50, s42_30, s42_10],
]

line_colors = ["#ffff00", "#00e400", "#00f0f0"]
band_colors = ["#c8c87a", "#7cc46a", "#5cc8c8"]
band_alpha = [0.6, 0.5, 0.55]
stim_color = "#ff00ff"

# ---------------- style
sns.set_theme(style="white")
plt.rcParams["font.family"] = ["Liberation Sans", "DejaVu Sans"]
plt.rcParams["mathtext.fontset"] = "custom"
plt.rcParams["mathtext.rm"] = "Liberation Sans"
plt.rcParams["mathtext.it"] = "Liberation Sans:italic"
plt.rcParams["axes.edgecolor"] = "black"
plt.rcParams["axes.linewidth"] = 1.3
plt.rcParams["axes.unicode_minus"] = False

fig = plt.figure(figsize=(20, 20.14), dpi=100)

# ---------------- Panel A
axA = fig.add_axes([0.124, 0.8737, 0.7977, 0.0944])
n_win = len(trace_top)
win_start = np.arange(n_win) * window_s
tx = np.empty(4 * n_win)
ty = np.empty(4 * n_win)
tx[0::4] = win_start + 0.125 * window_s
tx[1::4] = win_start + 0.375 * window_s
tx[2::4] = win_start + 0.625 * window_s
tx[3::4] = win_start + 0.875 * window_s
ty[0::4] = trace_top
ty[1::4] = -noise_core_mv
ty[2::4] = noise_core_mv
ty[3::4] = trace_bot
sns.lineplot(x=tx, y=ty, ax=axA, color="black", lw=1.1, estimator=None, sort=False)
axA.plot(stim_on_s, [stim_level_a, stim_level_a], color=stim_color, lw=7, solid_capstyle="butt")
axA.set_xlim(0, 60)
axA.set_ylim(-1.25, 2.38)
axA.set_xticks([0, 10, 20, 30, 40, 50])
axA.set_yticks([-1, 0, 1, 2])
axA.tick_params(direction="in", length=12, width=1.2, top=True, right=True,
                labelsize=22, pad=8, colors="black")
axA.set_xlabel("Time (s)", fontsize=24, labelpad=6)
axA.set_ylabel("Voltage (mV)", fontsize=25, labelpad=2)
for sp in axA.spines.values():
    sp.set_visible(True)
    sp.set_color("#222222")

fig.text(0.026, 0.992, "A", fontsize=28, fontweight="bold", ha="left", va="top")
fig.text(0.026, 0.814, "B", fontsize=28, fontweight="bold", ha="left", va="center")

# ---------------- Panel B grid
col_left = [0.1246, 0.4136, 0.702]
col_w = 0.219
row_bottom = [0.6996, 0.5682, 0.4369, 0.3055, 0.1741, 0.0432]
row_h = 0.06

for r, flabel in enumerate(freq_labels):
    for c, dur in enumerate(pulse_ms):
        ax = fig.add_axes([col_left[c], row_bottom[r], col_w, row_h])
        for p in range(3):
            m = np.array(means[r][p][c])
            s = np.array(sds[r][p][c])
            ax.fill_between(t_ms, m - s, m + s, color=band_colors[p],
                            alpha=band_alpha[p], lw=0)
        for p in range(3):
            sns.lineplot(x=t_ms, y=means[r][p][c], ax=ax, color=line_colors[p],
                         lw=3.5, estimator=None, sort=False, legend=False,
                         solid_joinstyle="round")
        ax.plot([0, dur], [stim_level_b, stim_level_b], color=stim_color, lw=8,
                solid_capstyle="butt")
        ax.set_xlim(-5, 40)
        ax.set_ylim(-0.72, 1.62)
        ax.set_xticks([0, 10, 20, 30, 40])
        ax.set_yticks([-0.5, 0, 0.5, 1, 1.5])
        ax.set_yticklabels(["-0.5", "0", "0.5", "1", "1.5"])
        ax.tick_params(axis="x", direction="in", length=5, width=1.2, labelsize=23, pad=7)
        ax.tick_params(axis="y", direction="in", length=5, width=1.2, labelsize=21, pad=2)
        ax.spines["top"].set_visible(False)
        ax.spines["right"].set_visible(False)
        ax.set_xlabel("Time (ms)", fontsize=24, labelpad=5)
        ax.set_ylabel("Voltage (mV)", fontsize=20, labelpad=8)
    yc = row_bottom[r] + row_h / 2
    fig.text(0.003, yc, flabel, fontsize=31, ha="left", va="center")

for c, title in enumerate(pulse_titles):
    fig.text(col_left[c] + col_w / 2, 0.7787, title, fontsize=32, ha="center", va="center")

handles = [Line2D([0], [0], color=line_colors[p], lw=3.5) for p in range(3)]
leg = fig.legend(handles, power_labels, loc="upper right", bbox_to_anchor=(0.9955, 0.8198),
                 borderaxespad=0, fontsize=24, frameon=True, fancybox=False,
                 handlelength=2.2, handletextpad=0.3, borderpad=0.35, labelspacing=0.45)
leg.get_frame().set_edgecolor("black")
leg.get_frame().set_linewidth(1.2)

fig.savefig("out.png", dpi=100)
